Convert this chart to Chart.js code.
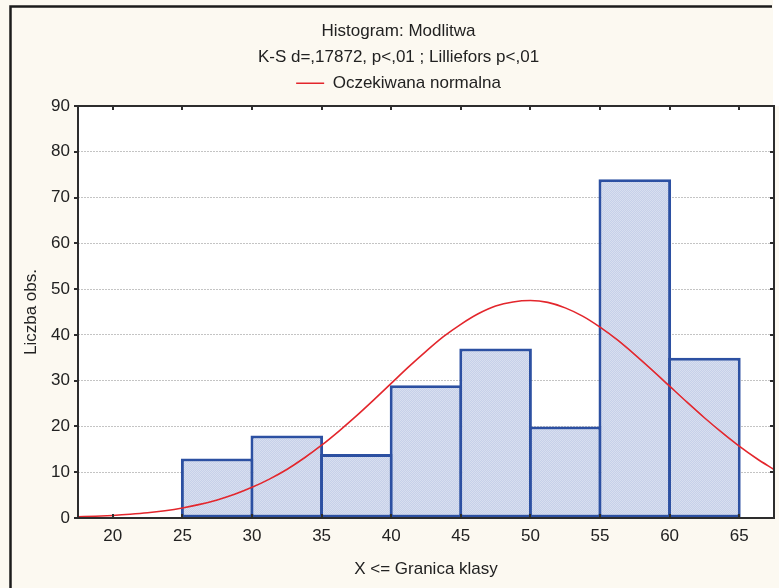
<!DOCTYPE html>
<html>
<head>
<meta charset="utf-8">
<title>Histogram: Modlitwa</title>
<script src="https://cdn.jsdelivr.net/npm/chart.js@4.4.1/dist/chart.umd.min.js"></script>
<style>
  html, body { margin: 0; padding: 0; background: #fcf9f1; }
  canvas { display: block; }
</style>
</head>
<body>
<canvas id="hist" width="779" height="588"></canvas>
<script>
// klasy: X <= granica klasy, szerokosc klasy 5
const classUpper = [30, 35, 40, 45, 50, 55, 60, 65];
const counts = [13, 18, 14, 29, 37, 20, 74, 35];
const binWidth = 5;

// oczekiwana normalna
const curveX = [17.5, 18.75, 20, 21.25, 22.5, 23.75, 25, 26.25, 27.5, 28.75,
  30, 31.25, 32.5, 33.75, 35, 36.25, 37.5, 38.75, 40, 41.25,
  42.5, 43.75, 45, 46.25, 47.5, 48.75, 50, 51.25, 52.5, 53.75,
  55, 56.25, 57.5, 58.75, 60, 61.25, 62.5, 63.75, 65, 66.25, 67.5];
const curveY = [0.26, 0.38, 0.56, 0.81, 1.14, 1.6, 2.2, 2.97, 3.95, 5.18,
  6.7, 8.5, 10.6, 13.1, 15.9, 19.0, 22.3, 25.8, 29.4, 33.0,
  36.4, 39.6, 42.3, 44.6, 46.3, 47.2, 47.5, 47.1, 45.9, 44.1,
  41.7, 38.9, 35.7, 32.3, 28.8, 25.3, 21.9, 18.7, 15.7, 13.0, 10.6];

const xTicks = [20, 25, 30, 35, 40, 45, 50, 55, 60, 65];
const yTicks = [0, 10, 20, 30, 40, 50, 60, 70, 80, 90];
const xMin = 17.5, xMax = 67.5, yMin = 0, yMax = 90;

// layout
const W = 779, H = 588;
const PLOT = { left: 78, right: 774, top: 106, bottom: 518 };
const padLeft = 18;
const textColor = '#222222';
const cream = '#fcf9f1';

Chart.defaults.font.family = '"Liberation Sans", Arial, sans-serif';
Chart.defaults.font.size = 17;
Chart.defaults.color = textColor;

// kropkowane wypelnienie slupkow
function makeFill() {
  const p = document.createElement('canvas');
  p.width = 2; p.height = 2;
  const g = p.getContext('2d');
  g.fillStyle = '#c6d0e9'; g.fillRect(0, 0, 2, 2);
  g.fillStyle = '#d8dfef'; g.fillRect(0, 0, 1, 1); g.fillRect(1, 1, 1, 1);
  return g.createPattern(p, 'repeat');
}

const framePlugin = {
  id: 'frame',
  beforeDraw(chart) {
    const c = chart.ctx, a = chart.chartArea;
    c.save();
    c.fillStyle = cream;
    c.fillRect(0, 0, chart.width, chart.height);
    c.fillStyle = '#ffffff';
    c.fillRect(a.left, a.top, a.right - a.left, a.bottom - a.top);
    c.fillRect(a.right - 1, 0, chart.width - a.right + 1, a.top);
    // ramka zewnetrzna
    c.strokeStyle = '#1c1c1c';
    c.lineWidth = 2.5;
    c.beginPath();
    c.moveTo(10.5, chart.height);
    c.lineTo(10.5, 6.5);
    c.lineTo(a.right - 2, 6.5);
    c.stroke();
    c.restore();
  },
  afterDatasetsDraw(chart) {
    const c = chart.ctx, a = chart.chartArea;
    const sx = chart.scales.x, sy = chart.scales.y;
    c.save();
    c.strokeStyle = '#2d2d2d';
    c.lineWidth = 2;
    c.strokeRect(a.left, a.top, a.right - a.left, a.bottom - a.top);
    c.beginPath();
    xTicks.forEach(v => {
      const px = Math.round(sx.getPixelForValue(v));
      c.moveTo(px, a.top); c.lineTo(px, a.top + 4);
      c.moveTo(px, a.bottom); c.lineTo(px, a.bottom - 4);
    });
    yTicks.forEach(v => {
      const py = Math.round(sy.getPixelForValue(v));
      c.moveTo(a.left - 4, py); c.lineTo(a.left, py);
      c.moveTo(a.right, py); c.lineTo(a.right - 4, py);
    });
    c.stroke();
    c.restore();
  }
};

const ctx = document.getElementById('hist').getContext('2d');

const chart = new Chart(ctx, {
  data: {
    datasets: [
      {
        type: 'bar',
        label: 'Liczba obs.',
        data: counts.map((n, i) => ({ x: classUpper[i] - binWidth / 2, y: n })),
        backgroundColor: makeFill(),
        borderColor: '#2c50a2',
        borderWidth: 3,
        borderSkipped: false,
        barPercentage: 1.043,
        categoryPercentage: 1,
        order: 2
      },
      {
        type: 'line',
        label: 'Oczekiwana normalna',
        data: curveX.map((x, i) => ({ x: x, y: curveY[i] })),
        borderColor: '#e3262c',
        borderWidth: 1.6,
        pointRadius: 0,
        pointBorderColor: '#e3262c',
        pointBorderWidth: 1.6,
        cubicInterpolationMode: 'monotone',
        order: 1
      }
    ]
  },
  options: {
    responsive: false,
    animation: false,
    layout: { padding: { left: padLeft, right: 0, top: 0, bottom: 0 } },
    plugins: {
      title: {
        display: true,
        text: 'Histogram: Modlitwa',
        color: textColor,
        font: { size: 17, weight: 'normal' },
        padding: { top: 21, bottom: 0 }
      },
      subtitle: {
        display: true,
        text: 'K-S d=,17872, p<,01 ; Lilliefors p<,01',
        color: textColor,
        font: { size: 17, weight: 'normal' },
        padding: { top: 6, bottom: 0 }
      },
      legend: {
        display: true,
        position: 'top',
        labels: {
          usePointStyle: true,
          pointStyle: 'line',
          pointStyleWidth: 28,
          padding: 7,
          color: textColor,
          font: { size: 17 },
          filter: item => item.datasetIndex === 1
        }
      },
      tooltip: { enabled: false }
    },
    scales: {
      x: {
        type: 'linear',
        position: 'bottom',
        min: xMin,
        max: xMax,
        offset: false,
        afterBuildTicks: s => { s.ticks = xTicks.map(v => ({ value: v })); },
        afterFit: s => { s.height = H - PLOT.bottom; },
        grid: { display: false, drawTicks: false },
        border: { display: false },
        ticks: { padding: 8, maxRotation: 0, autoSkip: false, color: textColor },
        title: {
          display: true,
          text: 'X <= Granica klasy',
          color: textColor,
          padding: { top: 0, bottom: 8 }
        }
      },
      x2: {
        type: 'linear',
        position: 'top',
        min: xMin,
        max: xMax,
        ticks: { display: false },
        grid: { display: false, drawTicks: false },
        border: { display: false },
        afterFit: s => {
          let used = 0;
          s.chart.boxes.forEach(b => {
            if (b.fullSize && b.position === 'top') used += b.height;
          });
          s.height = Math.max(0, PLOT.top - used);
        }
      },
      y: {
        type: 'linear',
        position: 'left',
        min: yMin,
        max: yMax,
        afterBuildTicks: s => { s.ticks = yTicks.map(v => ({ value: v })); },
        afterFit: s => { s.width = PLOT.left - padLeft; },
        grid: { color: '#c4c4c4', lineWidth: 1, drawTicks: false },
        border: { display: false, dash: [2, 1] },
        ticks: { padding: 8, color: textColor },
        title: {
          display: true,
          text: 'Liczba obs.',
          color: textColor,
          padding: { top: 3, bottom: 0 }
        }
      },
      y2: {
        type: 'linear',
        position: 'right',
        min: yMin,
        max: yMax,
        ticks: { display: false },
        grid: { display: false, drawTicks: false },
        border: { display: false },
        afterFit: s => { s.width = W - PLOT.right; }
      }
    }
  },
  plugins: [framePlugin]
});
</script>
</body>
</html>
